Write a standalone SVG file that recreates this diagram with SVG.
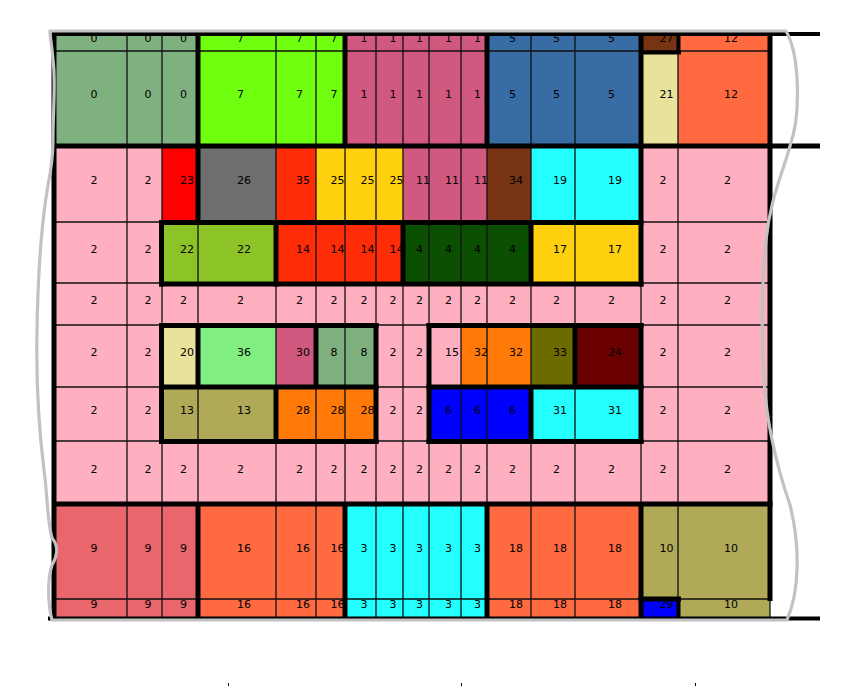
<svg xmlns="http://www.w3.org/2000/svg" width="863" height="686" viewBox="0 0 863 686">
<style>
.t{font-family:"DejaVu Sans","Liberation Sans",sans-serif;font-size:11px;fill:#000}
.thin{stroke:#111;stroke-width:1.3;fill:none}
.thick{stroke:#000;stroke-width:5;fill:none}
.edge{stroke:#c2c2c2;stroke-width:3.2;fill:none;stroke-linejoin:round}
</style>
<rect width="863" height="686" fill="#fff"/>
<g id="r2"><rect x="54" y="145" width="716" height="359" fill="#ffb0c0"/>
<text class="t" x="90.5" y="183.5">2</text><text class="t" x="144.5" y="183.5">2</text><text class="t" x="659.5" y="183.5">2</text><text class="t" x="724" y="183.5">2</text>
<text class="t" x="90.5" y="252.5">2</text><text class="t" x="144.5" y="252.5">2</text><text class="t" x="659.5" y="252.5">2</text><text class="t" x="724" y="252.5">2</text>
<text class="t" x="90.5" y="356">2</text><text class="t" x="144.5" y="356">2</text><text class="t" x="389.5" y="356">2</text><text class="t" x="416" y="356">2</text><text class="t" x="659.5" y="356">2</text><text class="t" x="724" y="356">2</text>
<text class="t" x="90.5" y="414">2</text><text class="t" x="144.5" y="414">2</text><text class="t" x="389.5" y="414">2</text><text class="t" x="416" y="414">2</text><text class="t" x="659.5" y="414">2</text><text class="t" x="724" y="414">2</text>
<text class="t" x="90.5" y="304">2</text><text class="t" x="144.5" y="304">2</text><text class="t" x="180" y="304">2</text><text class="t" x="237" y="304">2</text><text class="t" x="296" y="304">2</text><text class="t" x="330.5" y="304">2</text><text class="t" x="360.5" y="304">2</text><text class="t" x="389.5" y="304">2</text><text class="t" x="416" y="304">2</text><text class="t" x="445" y="304">2</text><text class="t" x="474" y="304">2</text><text class="t" x="509" y="304">2</text><text class="t" x="553" y="304">2</text><text class="t" x="608" y="304">2</text><text class="t" x="659.5" y="304">2</text><text class="t" x="724" y="304">2</text>
<text class="t" x="90.5" y="472.5">2</text><text class="t" x="144.5" y="472.5">2</text><text class="t" x="180" y="472.5">2</text><text class="t" x="237" y="472.5">2</text><text class="t" x="296" y="472.5">2</text><text class="t" x="330.5" y="472.5">2</text><text class="t" x="360.5" y="472.5">2</text><text class="t" x="389.5" y="472.5">2</text><text class="t" x="416" y="472.5">2</text><text class="t" x="445" y="472.5">2</text><text class="t" x="474" y="472.5">2</text><text class="t" x="509" y="472.5">2</text><text class="t" x="553" y="472.5">2</text><text class="t" x="608" y="472.5">2</text><text class="t" x="659.5" y="472.5">2</text><text class="t" x="724" y="472.5">2</text>
</g>
<g id="r0"><rect x="54" y="33" width="144" height="112" fill="#7fb07f"/>
<text class="t" x="90.5" y="42">0</text><text class="t" x="144.5" y="42">0</text><text class="t" x="180" y="42">0</text><text class="t" x="90.5" y="98">0</text><text class="t" x="144.5" y="98">0</text><text class="t" x="180" y="98">0</text></g>
<g id="r7"><rect x="198" y="33" width="147" height="112" fill="#6fff0f"/>
<text class="t" x="237" y="42">7</text><text class="t" x="296" y="42">7</text><text class="t" x="330.5" y="42">7</text><text class="t" x="237" y="98">7</text><text class="t" x="296" y="98">7</text><text class="t" x="330.5" y="98">7</text></g>
<g id="r1"><rect x="345" y="33" width="142" height="112" fill="#d1587f"/>
<text class="t" x="360.5" y="42">1</text><text class="t" x="389.5" y="42">1</text><text class="t" x="416" y="42">1</text><text class="t" x="445" y="42">1</text><text class="t" x="474" y="42">1</text>
<text class="t" x="360.5" y="98">1</text><text class="t" x="389.5" y="98">1</text><text class="t" x="416" y="98">1</text><text class="t" x="445" y="98">1</text><text class="t" x="474" y="98">1</text></g>
<g id="r5"><rect x="487" y="33" width="154" height="112" fill="#386ca5"/>
<text class="t" x="509" y="42">5</text><text class="t" x="553" y="42">5</text><text class="t" x="608" y="42">5</text><text class="t" x="509" y="98">5</text><text class="t" x="553" y="98">5</text><text class="t" x="608" y="98">5</text></g>
<g id="r27"><rect x="641" y="33" width="37" height="18" fill="#783412"/><text class="t" x="659.5" y="42">27</text></g>
<g id="r21"><rect x="641" y="51" width="37" height="94" fill="#e8e29a"/><text class="t" x="659.5" y="98">21</text></g>
<g id="r12"><rect x="678" y="33" width="92" height="112" fill="#ff6a40"/><text class="t" x="724" y="42">12</text><text class="t" x="724" y="98">12</text></g>
<g id="r23"><rect x="162" y="145" width="36" height="77" fill="#ff0000"/><text class="t" x="180" y="183.5">23</text></g>
<g id="r26"><rect x="198" y="145" width="78" height="77" fill="#6e6e6e"/><text class="t" x="237" y="183.5">26</text></g>
<g id="r35"><rect x="276" y="145" width="40" height="77" fill="#ff2c08"/><text class="t" x="296" y="183.5">35</text></g>
<g id="r25"><rect x="316" y="145" width="87" height="77" fill="#ffd00e"/><text class="t" x="330.5" y="183.5">25</text><text class="t" x="360.5" y="183.5">25</text><text class="t" x="389.5" y="183.5">25</text></g>
<g id="r11"><rect x="403" y="145" width="84" height="77" fill="#d1587f"/><text class="t" x="416" y="183.5">11</text><text class="t" x="445" y="183.5">11</text><text class="t" x="474" y="183.5">11</text></g>
<g id="r34"><rect x="487" y="145" width="44" height="77" fill="#783412"/><text class="t" x="509" y="183.5">34</text></g>
<g id="r19"><rect x="531" y="145" width="110" height="77" fill="#22fffe"/><text class="t" x="553" y="183.5">19</text><text class="t" x="608" y="183.5">19</text></g>
<g id="r22"><rect x="162" y="222" width="114" height="61" fill="#8cc428"/><text class="t" x="180" y="252.5">22</text><text class="t" x="237" y="252.5">22</text></g>
<g id="r14"><rect x="276" y="222" width="127" height="61" fill="#ff2c08"/><text class="t" x="296" y="252.5">14</text><text class="t" x="330.5" y="252.5">14</text><text class="t" x="360.5" y="252.5">14</text><text class="t" x="389.5" y="252.5">14</text></g>
<g id="r4"><rect x="403" y="222" width="128" height="61" fill="#0a5000"/><text class="t" x="416" y="252.5">4</text><text class="t" x="445" y="252.5">4</text><text class="t" x="474" y="252.5">4</text><text class="t" x="509" y="252.5">4</text></g>
<g id="r17"><rect x="531" y="222" width="110" height="61" fill="#ffd00e"/><text class="t" x="553" y="252.5">17</text><text class="t" x="608" y="252.5">17</text></g>
<g id="r20"><rect x="162" y="325" width="36" height="62" fill="#e8e29a"/><text class="t" x="180" y="356">20</text></g>
<g id="r36"><rect x="198" y="325" width="78" height="62" fill="#80ee80"/><text class="t" x="237" y="356">36</text></g>
<g id="r30"><rect x="276" y="325" width="40" height="62" fill="#d1587f"/><text class="t" x="296" y="356">30</text></g>
<g id="r8"><rect x="316" y="325" width="60" height="62" fill="#7fb07f"/><text class="t" x="330.5" y="356">8</text><text class="t" x="360.5" y="356">8</text></g>
<g id="r15"><rect x="429" y="325" width="32" height="62" fill="#ffb0c0"/><text class="t" x="445" y="356">15</text></g>
<g id="r32"><rect x="461" y="325" width="70" height="62" fill="#ff7a08"/><text class="t" x="474" y="356">32</text><text class="t" x="509" y="356">32</text></g>
<g id="r33"><rect x="531" y="325" width="44" height="62" fill="#6b6b00"/><text class="t" x="553" y="356">33</text></g>
<g id="r24"><rect x="575" y="325" width="66" height="62" fill="#6a0000"/><text class="t" x="608" y="356">24</text></g>
<g id="r13"><rect x="162" y="387" width="114" height="54" fill="#b0aa58"/><text class="t" x="180" y="414">13</text><text class="t" x="237" y="414">13</text></g>
<g id="r28"><rect x="276" y="387" width="100" height="54" fill="#ff7a08"/><text class="t" x="296" y="414">28</text><text class="t" x="330.5" y="414">28</text><text class="t" x="360.5" y="414">28</text></g>
<g id="r6"><rect x="429" y="387" width="102" height="54" fill="#0000ff"/><text class="t" x="445" y="414">6</text><text class="t" x="474" y="414">6</text><text class="t" x="509" y="414">6</text></g>
<g id="r31"><rect x="531" y="387" width="110" height="54" fill="#22fffe"/><text class="t" x="553" y="414">31</text><text class="t" x="608" y="414">31</text></g>
<g id="r9"><rect x="54" y="504" width="144" height="113" fill="#e8666c"/>
<text class="t" x="90.5" y="551.5">9</text><text class="t" x="144.5" y="551.5">9</text><text class="t" x="180" y="551.5">9</text><text class="t" x="90.5" y="608">9</text><text class="t" x="144.5" y="608">9</text><text class="t" x="180" y="608">9</text></g>
<g id="r16"><rect x="198" y="504" width="147" height="113" fill="#ff6a40"/>
<text class="t" x="237" y="551.5">16</text><text class="t" x="296" y="551.5">16</text><text class="t" x="330.5" y="551.5">16</text><text class="t" x="237" y="608">16</text><text class="t" x="296" y="608">16</text><text class="t" x="330.5" y="608">16</text></g>
<g id="r3"><rect x="345" y="504" width="142" height="113" fill="#22fffe"/>
<text class="t" x="360.5" y="551.5">3</text><text class="t" x="389.5" y="551.5">3</text><text class="t" x="416" y="551.5">3</text><text class="t" x="445" y="551.5">3</text><text class="t" x="474" y="551.5">3</text>
<text class="t" x="360.5" y="608">3</text><text class="t" x="389.5" y="608">3</text><text class="t" x="416" y="608">3</text><text class="t" x="445" y="608">3</text><text class="t" x="474" y="608">3</text></g>
<g id="r18"><rect x="487" y="504" width="154" height="113" fill="#ff6a40"/>
<text class="t" x="509" y="551.5">18</text><text class="t" x="553" y="551.5">18</text><text class="t" x="608" y="551.5">18</text><text class="t" x="509" y="608">18</text><text class="t" x="553" y="608">18</text><text class="t" x="608" y="608">18</text></g>
<g id="r10"><path d="M641,504H770V617H678V599H641Z" fill="#b0aa58"/><text class="t" x="659.5" y="551.5">10</text><text class="t" x="724" y="551.5">10</text><text class="t" x="724" y="608">10</text></g>
<g id="r29"><rect x="641" y="599" width="37" height="18" fill="#0000ff"/><text class="t" x="659.5" y="608">29</text></g>
<g id="connectors">
<path class="thin" d="M127,33V617M162,33V617M198,33V617M276,33V617M316,33V617M345,33V617M376,33V617M403,33V617M429,33V617M461,33V617M487,33V617M531,33V617M575,33V617M641,33V617M678,33V617M770,33V617"/>
<path class="thin" d="M54,51H770M54,145H770M54,222H770M54,283H770M54,325H770M54,387H770M54,441H770M54,504H770M54,599H770"/>
<path class="thick" d="M52,146H820M159,222.5H643.5M159,284H643.5M159,325.5H378.5M426.5,325.5H643.5M159,387H378.5M426.5,387H643.5M159,441.5H378.5M426.5,441.5H643.5M52,504H772.5M638.5,599H681"/>
<path class="thick" d="M54,32V619M198,32V222M198,325V387M198,504V618M161.5,220V286.5M161.5,323V444M276,222V286.5M276,387V444M316,325V387M345,32V146M345,504V618M376,323V444M403,222V284M429,323V444M487,32V146M487,504V618M531,222V284M531,387V441M575,325V387M641,32V286.5M641,323V444M641,504V618M770,32V601"/>
<path class="thick" style="stroke-width:4" d="M52,34H820M641,52.5H681M678.5,32V54M678.5,597V618M48,618.5H820"/>
</g>
<path class="edge" d="M50,31 L786,31 C800,55 801,115 790,146 C782,175 770,200 766,240 C762,280 761,330 764,380 C767,430 778,470 790,505 C800,545 800,590 787,620 L52,620 C48,605 47,580 52,565 C58,555 58,545 52,538 C47,520 48,500 44,470 C39,430 36,380 37,330 C38,270 42,220 48,185 C52,165 53,150 53,140 C53,110 56,80 53,60 C52,45 50,38 50,31 Z"/>
<path d="M228.5,683V686M461.5,683V686M695.5,683V686" stroke="#000" stroke-width="1"/>
</svg>
